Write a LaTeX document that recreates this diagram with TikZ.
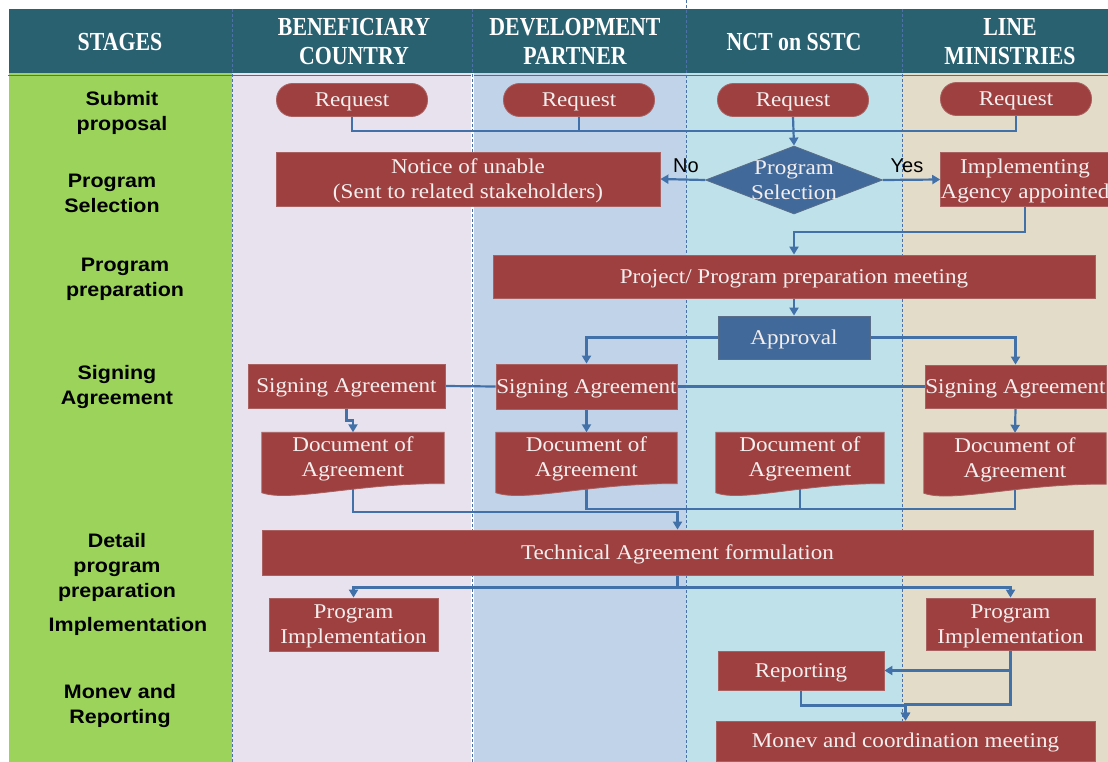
\documentclass[tikz,border=0pt]{standalone}
\usepackage{fontspec}
\setmainfont{Liberation Serif}
\setsansfont{Liberation Sans}
\newfontfamily\boxfont{Liberation Serif}[FakeStretch=1.1]
\newfontfamily\headfont{Liberation Serif}[FakeStretch=0.84]
\newfontfamily\stagefont{Liberation Sans}[FakeStretch=1.1]
\usetikzlibrary{shapes.geometric,arrows.meta,calc}
\pgfdeclarelayer{lanes}\pgfdeclarelayer{wires}\pgfdeclarelayer{shapes}
\pgfsetlayers{lanes,wires,shapes,main}
\definecolor{hdr}{HTML}{2A6171}
\definecolor{stagegreen}{HTML}{9BD35B}
\definecolor{lav}{HTML}{E7E2EE}
\definecolor{dpblue}{HTML}{C0D3E8}
\definecolor{cyanl}{HTML}{BEE1EA}
\definecolor{beige}{HTML}{E2DCC8}
\definecolor{boxred}{HTML}{9F4040}
\definecolor{boxedge}{HTML}{A86060}
\definecolor{boxblue}{HTML}{41699A}
\definecolor{blueedge}{HTML}{5A6E88}
\definecolor{wire}{HTML}{4271AA}
\definecolor{boxtext}{HTML}{F4EFEF}
\definecolor{divline}{HTML}{4A72A8}
% struts: fixed height and 5pt depth, so that capitals sit centred on the node centre
\newcommand\strutB{\rule[-5pt]{0pt}{23.9pt}}
\newcommand\strutS{\rule[-5pt]{0pt}{24pt}}
\newcommand\strutH{\rule[-5pt]{0pt}{27.2pt}}
\tikzset{
  every node/.style={inner sep=0pt},
  box/.style={rectangle, fill=boxred, draw=boxedge, line width=0.8pt, text=boxtext,
    font=\boxfont\fontsize{21}{25}\selectfont, align=center,
    execute at end node=\strutB},
  bluebox/.style={box, fill=boxblue, draw=blueedge},
  pill/.style={box, rounded corners=16pt, minimum width=151pt, minimum height=33pt},
  doctext/.style={rectangle, text=boxtext, font=\boxfont\fontsize{21}{25}\selectfont,
    align=center, minimum height=50pt, execute at end node=\strutB},
  decision/.style={diamond, shape aspect=2.6, inner sep=-8pt, fill=boxblue, draw=blueedge,
    line width=0.8pt, text=boxtext, font=\boxfont\fontsize{21}{25}\selectfont, align=center,
    minimum width=177pt, minimum height=68pt, execute at end node=\strutB},
  conn/.style={draw=wire, line width=2.2pt},
  tip/.style={-{Triangle[length=8pt,width=9pt]}},
  stage/.style={font=\stagefont\bfseries\fontsize{19.5}{25}\selectfont, align=center, text=black,
    execute at end node=\strutS},
  head/.style={font=\headfont\bfseries\fontsize{26}{29}\selectfont, text=white, align=center,
    execute at end node=\strutH},
  yn/.style={font=\sffamily\fontsize{20}{22}\selectfont, text=black},
  divider/.style={draw=divline, line width=0.8pt, dash pattern=on 3pt off 2pt},
}
\newcommand\mydocshape[1]{%
  \begin{pgfonlayer}{shapes}
  \filldraw[fill=boxred, draw=boxedge, line width=0.8pt]
    (#1.north west) -- (#1.north east) -- ($(#1.south east)+(0,1)$)
    .. controls ($(#1.south west)!0.54!(#1.south east)$)
       and ($(#1.south west)!0.15!(#1.south east)+(0,20)$)
    .. ($(#1.south west)+(0,10)$) -- cycle;
  \end{pgfonlayer}}
\begin{document}
\begin{tikzpicture}[x=1pt,y=-1pt]
\useasboundingbox (0,0) rectangle (1108,762);
\begin{pgfonlayer}{lanes}
  \fill[white] (0,0) rectangle (1108,762);
  \fill[hdr] (9,9) rectangle (1108,73);
  \fill[stagegreen] (9,73) rectangle (232,762);
  \fill[lav] (232,73) rectangle (472,762);
  \fill[dpblue] (472,73) rectangle (686,762);
  \fill[cyanl] (686,73) rectangle (902,762);
  \fill[beige] (902,73) rectangle (1108,762);
  \draw[wire, line width=1pt] (8,76) -- (1108,76);
  \draw[divider] (232,9) -- (232,762);
  \draw[white, line width=3pt] (472,73) -- (472,762);
  \draw[divider] (472,9) -- (472,762);
  \draw[divider] (686,0) -- (686,762);
  \draw[divider] (902,9) -- (902,762);
\end{pgfonlayer}

% headers
\node[head] (hst) at (120,41.5) {\strutH STAGES};
\node[head] (hbc) at (354,41.5) {\strutH BENEFICIARY\\COUNTRY};
\node[head] (hdp) at (575,41.5) {\strutH DEVELOPMENT\\PARTNER};
\node[head] (hnct) at (794,41.5) {\strutH NCT on SSTC};
\node[head] (hlm) at (1010,41.5) {\strutH LINE\\MINISTRIES};

% stages
\node[stage] (ssub) at (122,111.5) {\strutS Submit\\proposal};
\node[stage] (ssel) at (112,193) {\strutS Program\\Selection};
\node[stage] (sprep) at (125,276.5) {\strutS Program\\preparation};
\node[stage] (ssign) at (117,385) {\strutS Signing\\Agreement};
\node[stage] (sdet) at (117,565) {\strutS Detail\\program\\preparation};
\node[stage] (simp) at (128,624) {\strutS Implementation};
\node[stage] (smon) at (120,703.5) {\strutS Monev and\\Reporting};

% flow nodes
\node[pill] (r1) at (352,100) {\strutB Request};
\node[pill] (r2) at (579,100) {\strutB Request};
\node[pill] (r3) at (793,100) {\strutB Request};
\node[pill] (r4) at (1016,99) {\strutB Request};
\node[decision] (sel) at (794,180) {\strutB Program\\Selection};
\node[box, minimum width=384pt, minimum height=54pt] (notice) at (468,179) {\strutB Notice of unable\\(Sent to related stakeholders)};
\node[box, minimum width=164pt, minimum height=54pt] (impl) at (1025,179.5) {\strutB Implementing\\Agency appointed};
\node[yn] (no) at (686,166) {No};
\node[yn] (yes) at (907,166) {Yes};
\node[box, minimum width=602pt, minimum height=43pt] (prep) at (794,276.5) {\strutB Project/ Program preparation meeting};
\node[bluebox, minimum width=152pt, minimum height=43pt] (appr) at (794,337.5) {\strutB Approval};
\node[box, minimum width=197pt, minimum height=44pt] (s1) at (346.5,386) {\strutB Signing Agreement};
\node[box, minimum width=181pt, minimum height=45pt] (s2) at (586.5,386.5) {\strutB Signing Agreement};
\node[box, minimum width=181pt, minimum height=43pt] (s4) at (1015.5,386.5) {\strutB Signing Agreement};
\node[doctext, minimum width=182pt] (d1) at (353,457.5) {\strutB Document of\\Agreement};
\node[doctext, minimum width=181pt] (d2) at (586.5,457.5) {\strutB Document of\\Agreement};
\node[doctext, minimum width=168pt] (d3) at (800,457.5) {\strutB Document of\\Agreement};
\node[doctext, minimum width=182pt] (d4) at (1015,458) {\strutB Document of\\Agreement};
\mydocshape{d1}\mydocshape{d2}\mydocshape{d3}\mydocshape{d4}
\node[box, minimum width=831pt, minimum height=45pt] (ta) at (677.5,552.5) {\strutB Technical Agreement formulation};
\node[box, minimum width=169pt, minimum height=53pt] (pi1) at (353.5,624.5) {\strutB Program\\Implementation};
\node[box, minimum width=169pt, minimum height=52pt] (pi2) at (1010.5,624) {\strutB Program\\Implementation};
\node[box, minimum width=166pt, minimum height=39pt] (rep) at (801,670.5) {\strutB Reporting};
\node[box, minimum width=379pt, minimum height=40pt] (mon) at (905.5,741) {\strutB Monev and coordination meeting};

\coordinate (jr) at (793,131);
\coordinate (jd) at (677.5,509);

\begin{pgfonlayer}{wires}
  \draw[conn] (r1.south) |- (jr);
  \draw[conn] (r2.south) |- (jr);
  \draw[conn] (r4.south) |- (jr);
  \draw[conn,tip] (r3.south) -- (sel.north);
  \draw[conn,tip] (sel.west) -- (notice.east);
  \draw[conn,tip] (sel.east) -- (impl.west);
  \draw[conn,tip] (impl.south) -- ++(0,25) -| (prep.north);
  \draw[conn,tip] (prep.south) -- (appr.north);
  \draw[conn,tip] (appr.west) -| (s2.north);
  \draw[conn,tip] (appr.east) -| (s4.north);
  \draw[conn] (s1.east) -- (s2.west);
  \draw[conn] (s2.east) -- (s4.west);
  \draw[conn,tip] (s1.south) -- ++(0,12) -| (d1.north);
  \draw[conn,tip] (s2.south) -- (d2.north);
  \draw[conn,tip] (s4.south) -- (d4.north);
  \draw[conn,tip] (d1.south) -- ++(0,29) -| (ta.north);
  \draw[conn] (d2.south) |- (jd);
  \draw[conn] (d3.south) |- (jd);
  \draw[conn] (d4.south) |- (jd);
  \draw[conn,tip] (ta.south) -- ++(0,12) -| (pi1.north);
  \draw[conn,tip] (ta.south) -- ++(0,12) -| (pi2.north);
  \draw[conn,tip] (pi2.south) |- (rep.east);
  \draw[conn,tip] (pi2.south) -- ++(0,54) -| (mon.north);
  \draw[conn,tip] (rep.south) -- ++(0,15) -| (mon.north);
\end{pgfonlayer}
\end{tikzpicture}
\end{document}
